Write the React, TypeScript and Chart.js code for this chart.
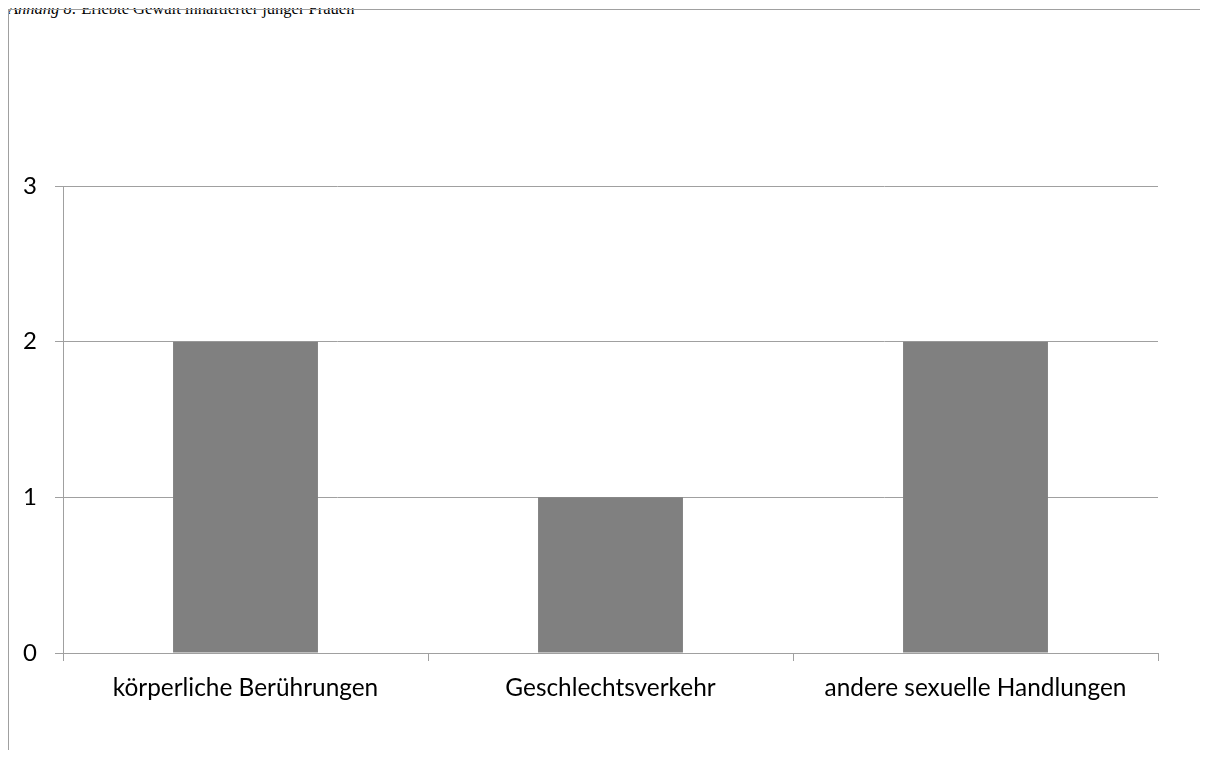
import React, { useEffect, useRef } from "react";
import { Chart, registerables } from "chart.js";

Chart.register(...registerables);

const categories = ["körperliche Berührungen", "Geschlechtsverkehr", "andere sexuelle Handlungen"];
const values = [2, 1, 2];
const yTicks = [0, 1, 2, 3];

export default function App() {
  const ref = useRef<HTMLCanvasElement | null>(null);
  useEffect(() => {
    if (!ref.current) return;
    const chart = new Chart(ref.current, {
      type: "bar",
      data: {
        labels: categories,
        datasets: [
          {
            data: values,
            backgroundColor: "#808080",
            borderWidth: 0,
            barPercentage: 1,
            categoryPercentage: 0.397,
          },
        ],
      },
      options: {
        animation: false,
        responsive: false,
        layout: { padding: { top: 176, right: 50, left: 0, bottom: 0 } },
        plugins: { legend: { display: false }, tooltip: { enabled: false }, title: { display: false } },
        scales: {
          x: {
            offset: true,
            grid: { display: true, drawOnChartArea: false, offset: true, tickLength: 8, color: "#a0a0a0", lineWidth: 1 },
            border: { display: true, color: "#a0a0a0" },
            ticks: { color: "#000", font: { family: "Lato", size: 24.4 }, padding: 13, maxRotation: 0 },
            afterFit: (s: any) => { s.height = 105; },
          },
          y: {
            min: 0,
            max: 3,
            afterBuildTicks: (s: any) => { s.ticks = yTicks.map((v) => ({ value: v })); },
            grid: { color: "#a0a0a0", tickLength: 8, lineWidth: 1 },
            border: { display: true, color: "#a0a0a0" },
            ticks: { color: "#000", font: { family: "Lato", size: 24 }, padding: 18 },
            afterFit: (s: any) => { s.width = 54; },
          },
        },
      },
    });
    return () => chart.destroy();
  }, []);

  return (
    <div style={{ position: "relative", height: 742 }}>
      <style>{"html, body { overflow: hidden; }"}</style>
      <div
        style={{
          position: "absolute",
          left: 0,
          top: -8,
          fontFamily: "'Liberation Serif', serif",
          fontSize: 16.5,
          lineHeight: "18px",
          whiteSpace: "nowrap",
        }}
      >
        <i>Anhang 8:</i> Erlebte Gewalt inhaftierter junger Frauen
      </div>
      <div
        style={{
          position: "absolute",
          left: 0,
          top: 1,
          width: 1210,
          height: 770,
          borderTop: "1px solid #a0a0a0",
          borderLeft: "1px solid #a0a0a0",
          boxSizing: "border-box",
        }}
      >
        <canvas ref={ref} width={1199} height={748} style={{ display: "block" }} />
      </div>
    </div>
  );
}
